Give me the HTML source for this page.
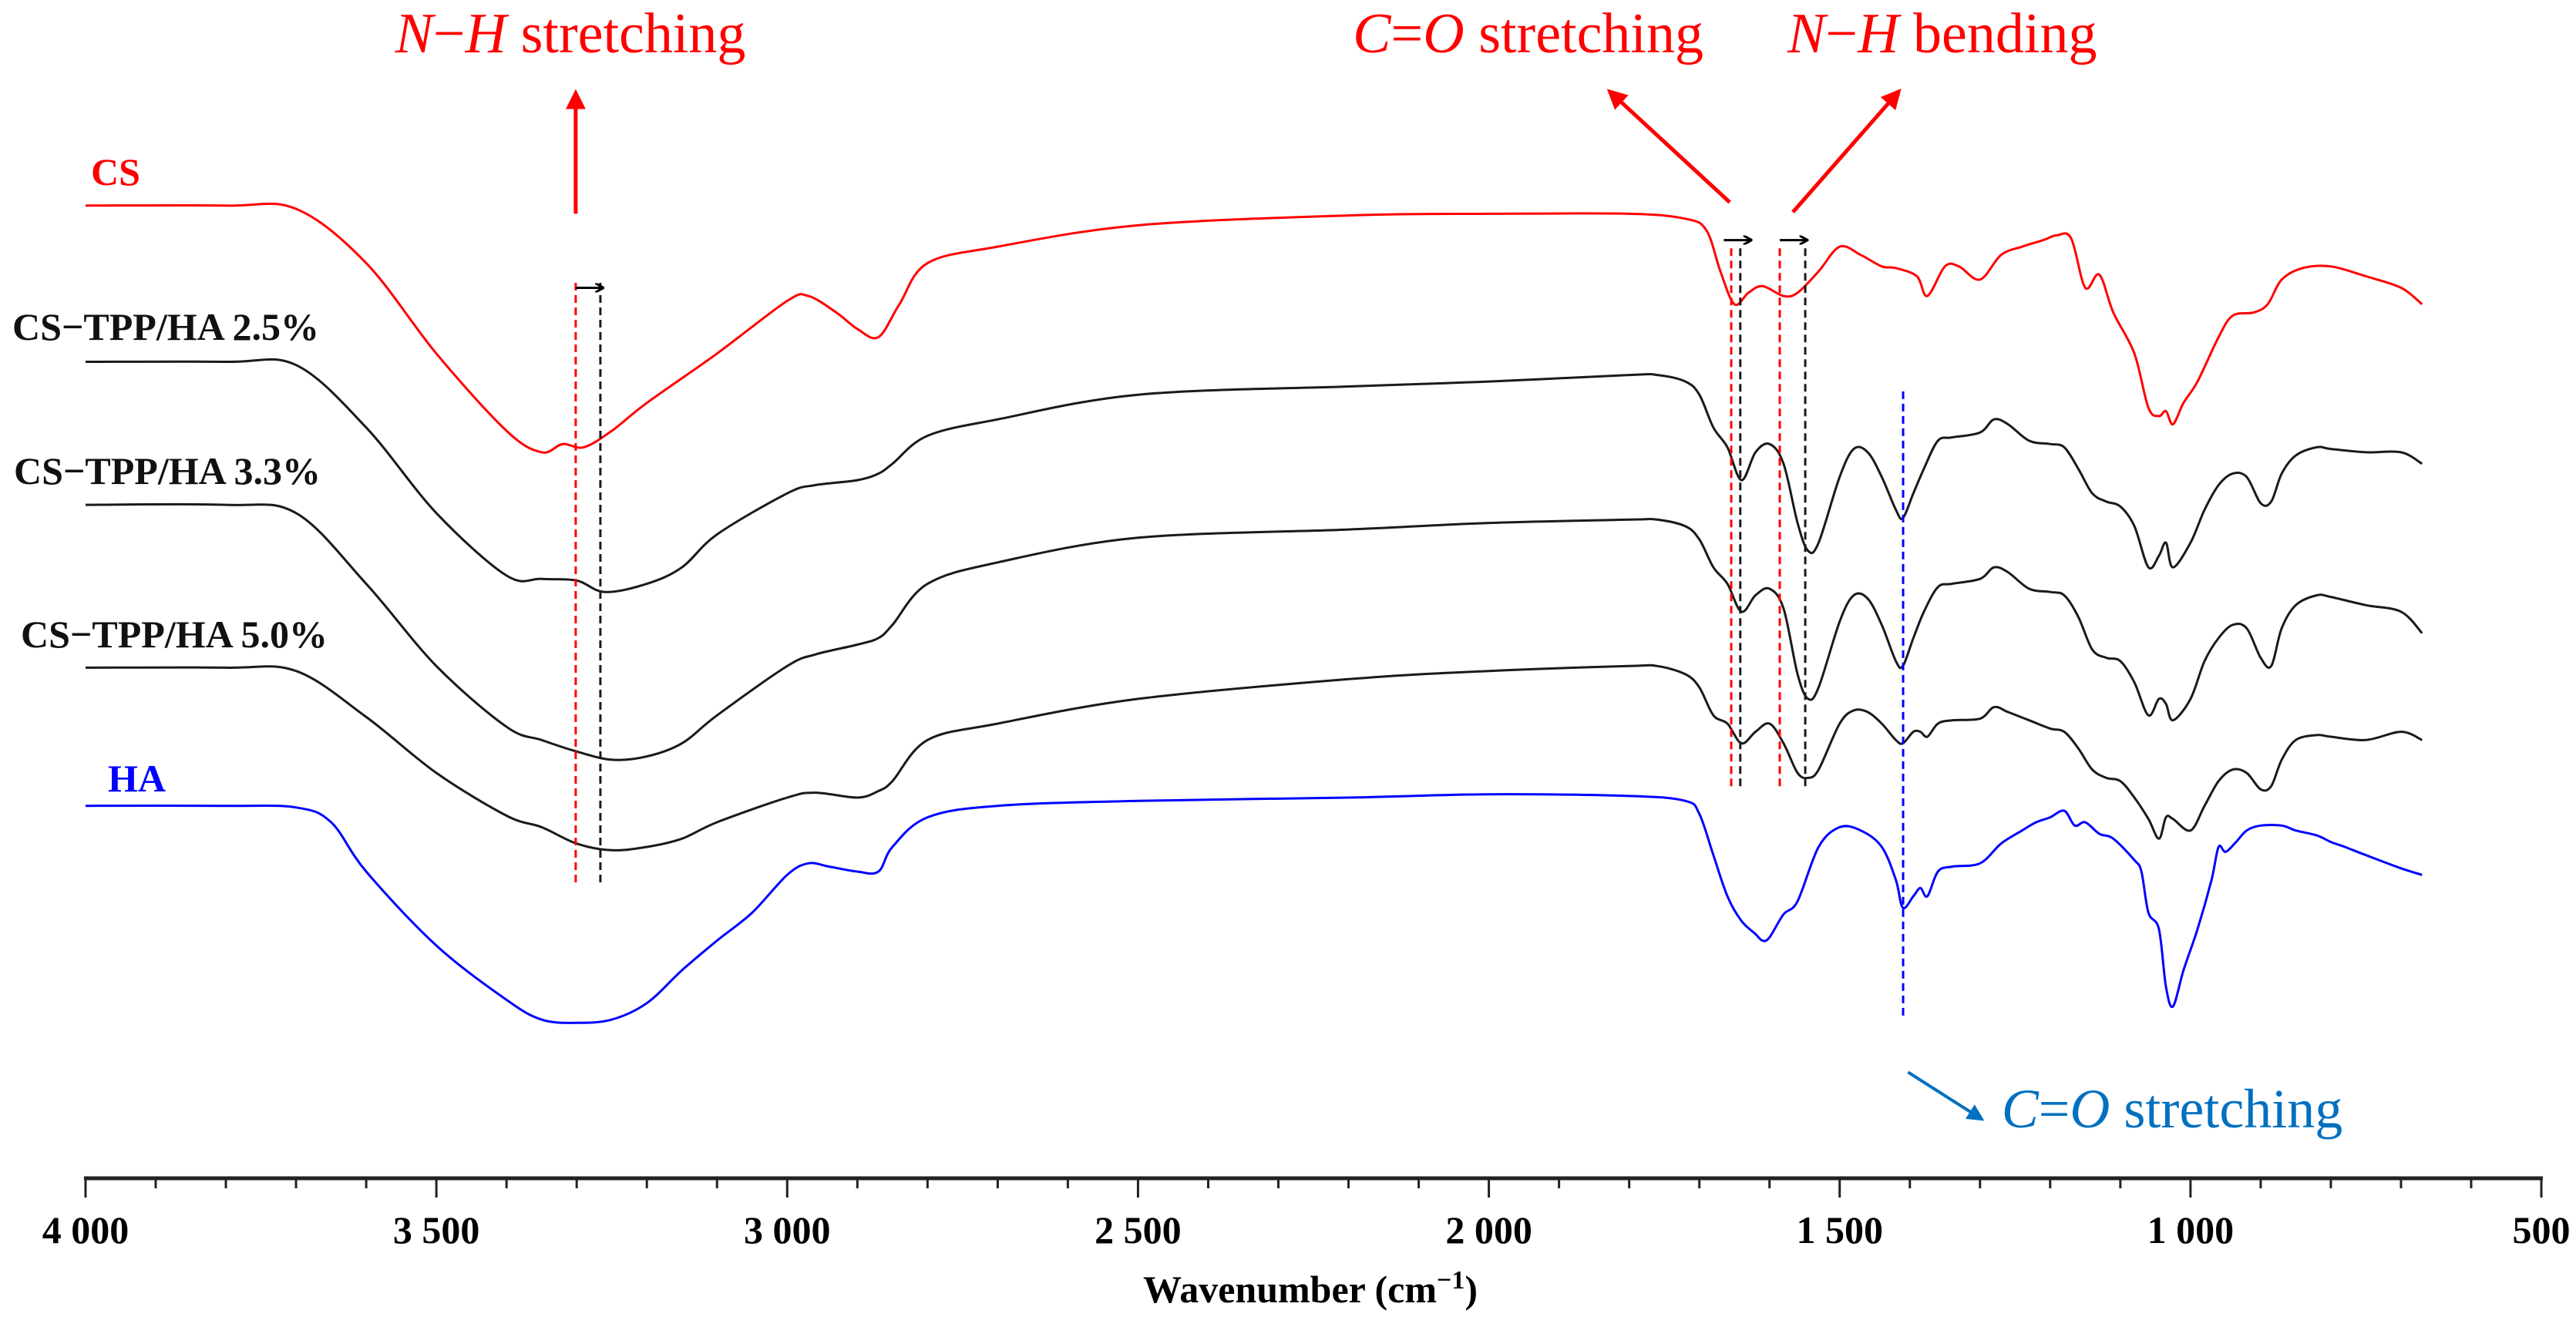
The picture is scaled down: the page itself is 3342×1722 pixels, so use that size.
<!DOCTYPE html>
<html><head><meta charset="utf-8">
<style>
html,body{margin:0;padding:0;background:#fff;}
svg{display:block;}
text{font-family:"Liberation Serif",serif;}
</style></head>
<body>
<svg id="chart" width="3342" height="1722" viewBox="0 0 3342 1722" xmlns="http://www.w3.org/2000/svg">
<g id="axis"></g>
<g id="series"></g>
<g id="annot"></g>
<text x="1700" y="1690" font-size="50" font-weight="bold" text-anchor="middle">Wavenumber (cm<tspan font-size="34" dy="-18">−1</tspan><tspan dy="18">)</tspan></text>
<text x="118" y="240" font-size="50" font-weight="bold" fill="#ff0000">CS</text>
<text x="16" y="441" font-size="50" font-weight="bold" fill="#111">CS−TPP/HA 2.5%</text>
<text x="18" y="628" font-size="50" font-weight="bold" fill="#111">CS−TPP/HA 3.3%</text>
<text x="27" y="840" font-size="50" font-weight="bold" fill="#111">CS−TPP/HA 5.0%</text>
<text x="140" y="1027" font-size="50" font-weight="bold" fill="#0000ff">HA</text>
<text x="740" y="68" font-size="74" fill="#ff0000" text-anchor="middle"><tspan font-style="italic">N</tspan>−<tspan font-style="italic">H</tspan> stretching</text>
<text x="2210" y="68" font-size="74" fill="#ff0000" text-anchor="end"><tspan font-style="italic">C</tspan>=<tspan font-style="italic">O</tspan> stretching</text>
<text x="2319" y="68" font-size="74" fill="#ff0000" text-anchor="start"><tspan font-style="italic">N</tspan>−<tspan font-style="italic">H</tspan> bending</text>
<text x="2818" y="1463" font-size="72" fill="#0070c0" text-anchor="middle"><tspan font-style="italic">C</tspan>=<tspan font-style="italic">O</tspan> stretching</text>
</svg>
<script>
const NS='http://www.w3.org/2000/svg';
const S=2.134;
const xTicks=[4000,3500,3000,2500,2000,1500,1000,500];
const xTickLabels=['4 000','3 500','3 000','2 500','2 000','1 500','1 000','500'];
// wavenumbers and intensity (arbitrary units, higher = lower on page)
const csW=[4000,3800,3700,3600,3500,3400,3350,3320,3290,3250,3200,3100,3000,2970,2930,2900,2870,2840,2800,2700,2500,2200,2000,1800,1720,1690,1670,1650,1630,1610,1580,1560,1530,1500,1470,1440,1420,1390,1375,1350,1330,1300,1270,1240,1210,1190,1170,1150,1130,1110,1080,1060,1045,1035,1025,1010,990,960,940,910,890,870,840,800,750,700,670];
const csV=[125,125,127,160,215,262,275,270,272,262,245,215,183,180,190,200,205,185,160,150,137,131,130,130,133,140,165,185,178,174,180,178,165,150,155,162,163,168,180,162,162,170,155,150,146,143,145,175,167,190,215,248,253,250,258,245,232,205,192,190,185,170,163,162,168,175,185];
const ha25W=[4000,3800,3700,3600,3500,3400,3350,3300,3260,3200,3150,3100,3000,2960,2900,2870,2850,2800,2700,2500,2200,2000,1800,1760,1720,1700,1680,1660,1640,1620,1600,1580,1560,1545,1530,1500,1480,1460,1440,1420,1410,1395,1380,1360,1340,1300,1280,1260,1230,1200,1180,1160,1140,1120,1100,1080,1060,1045,1035,1025,1000,980,960,940,920,900,885,870,850,820,800,750,700,670];
const ha25V=[220,220,222,260,312,350,352,353,360,355,345,325,300,295,292,288,282,265,255,240,235,232,228,228,232,240,260,272,292,275,270,282,318,335,330,290,273,275,290,310,315,300,285,268,266,263,255,258,268,270,272,285,300,305,308,320,345,338,330,345,330,310,295,288,290,306,305,288,277,272,273,275,275,282];
const ha33W=[4000,3800,3700,3600,3500,3400,3350,3300,3250,3200,3150,3100,3000,2960,2900,2870,2850,2800,2700,2500,2200,2000,1800,1760,1720,1700,1680,1660,1640,1620,1600,1580,1560,1545,1530,1500,1480,1460,1440,1420,1410,1395,1380,1360,1340,1300,1280,1260,1230,1200,1180,1160,1140,1120,1100,1080,1060,1045,1035,1025,1000,980,960,940,920,900,885,870,850,820,800,750,700,670];
const ha33V=[307,307,312,355,405,442,450,457,462,460,452,435,405,398,392,388,380,355,342,327,322,318,316,316,320,328,345,355,372,362,358,370,410,425,418,378,362,364,380,402,405,388,372,357,355,352,345,348,358,360,362,375,395,400,402,415,435,425,428,438,425,402,388,380,382,400,405,382,368,362,363,368,372,385];
const ha50W=[4000,3800,3700,3600,3500,3400,3350,3300,3250,3200,3150,3100,3000,2960,2900,2870,2850,2800,2700,2500,2200,2000,1800,1760,1720,1700,1680,1660,1640,1620,1600,1580,1560,1545,1530,1500,1480,1460,1440,1420,1410,1395,1385,1375,1360,1340,1300,1280,1260,1230,1200,1180,1160,1140,1120,1100,1080,1060,1045,1035,1025,1000,980,960,940,920,900,885,870,850,820,800,750,700,670];
const ha50V=[406,406,408,436,470,496,503,513,517,515,510,500,485,482,485,481,475,450,440,425,413,408,405,405,410,418,435,440,452,445,440,452,470,473,468,440,432,433,440,450,452,445,445,448,440,438,437,430,433,438,443,445,455,468,473,475,485,498,510,497,498,505,490,475,468,470,480,478,462,450,447,448,450,445,450];
const haW=[4000,3800,3700,3650,3600,3500,3400,3350,3300,3250,3200,3150,3100,3050,3000,2970,2940,2900,2870,2850,2800,2700,2500,2200,2000,1800,1720,1700,1680,1660,1640,1620,1610,1600,1580,1560,1530,1500,1470,1440,1420,1410,1395,1385,1375,1360,1340,1300,1270,1240,1220,1200,1180,1165,1150,1130,1110,1080,1070,1060,1045,1035,1025,1010,990,970,960,950,935,920,900,870,850,820,800,780,750,700,670];
const haV=[490,490,491,500,530,575,608,620,622,620,610,590,572,555,532,525,527,530,530,515,497,490,487,485,483,484,487,495,520,545,560,568,572,570,556,548,515,503,505,515,535,552,545,540,545,530,527,525,513,505,500,497,493,502,500,507,510,523,530,555,565,600,612,590,565,535,515,518,512,505,502,502,505,508,512,515,520,528,532];

const X=w=>(52+(4000-w)*1493/3500)*S;
const Y=v=>v*S;

const ax=document.getElementById('axis');
function mk(tag,attrs,parent){const e=document.createElementNS(NS,tag);for(const k in attrs)e.setAttribute(k,attrs[k]);parent.appendChild(e);return e;}
const axisY=1529;
const al=mk('line',{x1:X(4000)-2,x2:X(500)+2,y1:axisY,y2:axisY,stroke:'#222','stroke-width':5},ax);


for(let w=4000;w>=500;w-=100){
  const major=w%500===0;
  const t=mk('line',{x1:X(w),x2:X(w),y1:axisY,y2:axisY+(major?25:13),stroke:'#222','stroke-width':3},ax);
  
  
}
xTicks.forEach((w,i)=>{
  const t=mk('text',{x:X(w),y:1613,'font-size':50,'font-weight':'bold','text-anchor':'middle'},ax);
  t.textContent=xTickLabels[i];
  
  
});

function smooth(ws,vs){
  const p=ws.map((w,i)=>[X(w),Y(vs[i])]);
  let d='M'+p[0][0].toFixed(1)+','+p[0][1].toFixed(1);
  for(let i=0;i<p.length-1;i++){
    const p0=p[Math.max(0,i-1)],p1=p[i],p2=p[i+1],p3=p[Math.min(p.length-1,i+2)];
    const c1=[p1[0]+(p2[0]-p0[0])/6,p1[1]+(p2[1]-p0[1])/6];
    const c2=[p2[0]-(p3[0]-p1[0])/6,p2[1]-(p3[1]-p1[1])/6];
    d+='C'+c1[0].toFixed(1)+','+c1[1].toFixed(1)+' '+c2[0].toFixed(1)+','+c2[1].toFixed(1)+' '+p2[0].toFixed(1)+','+p2[1].toFixed(1);
  }
  return d;
}
const sg=document.getElementById('series');
const series=[[csW,csV,'#ff0000','series-cs'],[ha25W,ha25V,'#1a1a1a','series-cs-tpp-ha-2-5'],[ha33W,ha33V,'#1a1a1a','series-cs-tpp-ha-3-3'],[ha50W,ha50V,'#1a1a1a','series-cs-tpp-ha-5-0'],[haW,haV,'#0000ff','series-ha']];
series.forEach(s=>{
  const p=mk('path',{d:smooth(s[0],s[1]),fill:'none',stroke:s[2],'stroke-width':3},sg);
  
  
});

const an=document.getElementById('annot');
mk('defs',{},an).innerHTML='<marker id="ab" markerWidth="12" markerHeight="12" refX="11" refY="6" orient="auto" markerUnits="userSpaceOnUse"><path d="M0,0 L11,6 L0,12" fill="none" stroke="#000" stroke-width="3"/></marker><marker id="ar" markerWidth="26" markerHeight="26" refX="20" refY="13" orient="auto" markerUnits="userSpaceOnUse"><path d="M0,0 L26,13 L0,26 Z" fill="#ff0000"/></marker><marker id="abl" markerWidth="22" markerHeight="22" refX="16" refY="11" orient="auto" markerUnits="userSpaceOnUse"><path d="M0,0 L22,11 L0,22 Z" fill="#0070c0"/></marker>';
function dl(x,y1,y2,c,name){const l=mk('line',{x1:x*S,x2:x*S,y1:y1*S,y2:y2*S,stroke:c,'stroke-width':3,'stroke-dasharray':'10,6'},an);}
dl(350,172,537,'#ff0000','nh-red-dashed-line');
dl(365,172,537,'#1a1a1a','nh-black-dashed-line');
dl(1052.5,151,480,'#ff0000','co-red-dashed-line');
dl(1058,151,480,'#1a1a1a','co-black-dashed-line');
dl(1082,151,480,'#ff0000','nhb-red-dashed-line');
dl(1097.5,151,480,'#1a1a1a','nhb-black-dashed-line');
dl(1157,238,618,'#0000ff','ha-blue-dashed-line');
function ar(x1,y1,x2,y2,c,m,w,name){const l=mk('line',{x1:x1*S,y1:y1*S,x2:x2*S,y2:y2*S,stroke:c,'stroke-width':w,'marker-end':'url(#'+m+')'},an);}
ar(350,175,367,175,'#000','ab',3,'shift-arrow-nh');
ar(1048,146,1065,146,'#000','ab',3,'shift-arrow-co');
ar(1082,146,1099,146,'#000','ab',3,'shift-arrow-nhb');
ar(350,130,350,57,'#ff0000','ar',5,'nh-stretching-arrow');
ar(1051.6,123,979,56,'#ff0000','ar',5,'co-stretching-arrow');
ar(1090,129,1154,56,'#ff0000','ar',5,'nh-bending-arrow');
ar(1160,652,1204,680,'#0070c0','abl',4,'ha-co-stretching-arrow');
</script>
</body></html>
